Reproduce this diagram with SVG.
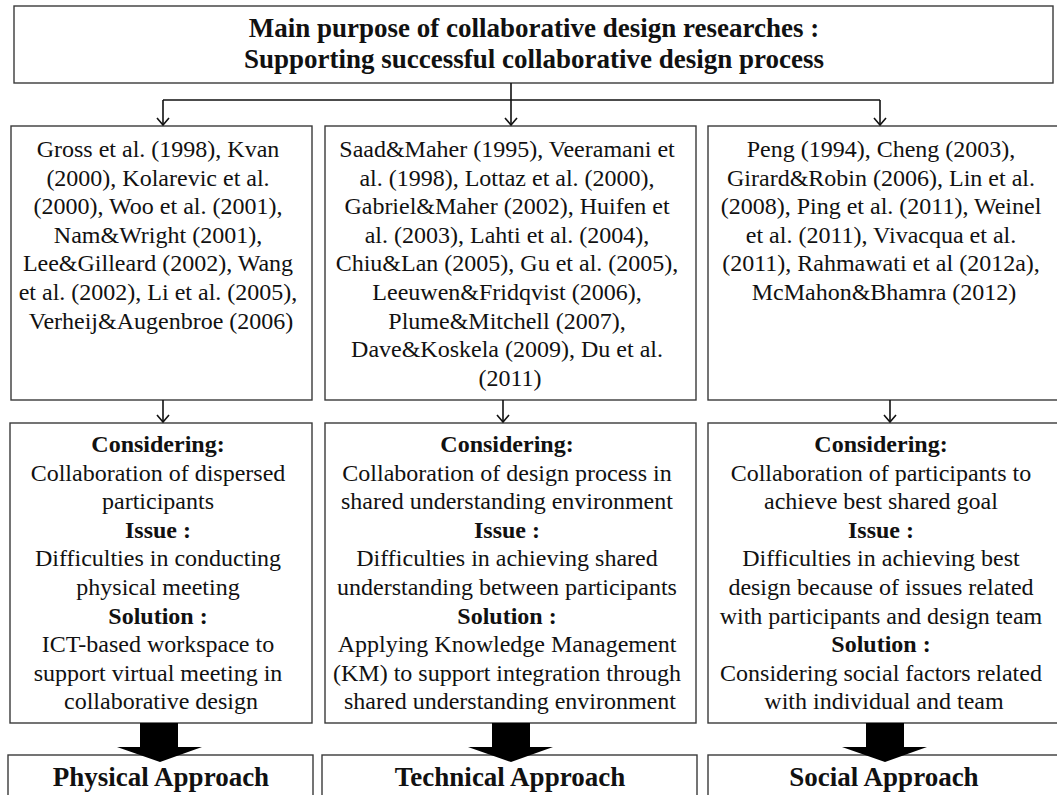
<svg xmlns="http://www.w3.org/2000/svg" width="1057" height="795" viewBox="0 0 1057 795">
  <style>
    .box { fill: #ffffff; stroke: #3a3a3a; stroke-width: 1.4; }
    .t { font-family: "Liberation Serif", "Times New Roman", serif; fill: #111111; text-anchor: middle; }
    .title { font-size: 27px; font-weight: bold; }
    .ref { font-size: 24px; }
    .body { font-size: 24px; }
    .hd { font-weight: bold; }
    .appr { font-size: 27px; font-weight: bold; }
    .link { fill: none; stroke: #111111; stroke-width: 1.6; }
    .big { fill: #000000; }
  </style>
  <defs>
    <marker id="vhead" markerUnits="userSpaceOnUse" markerWidth="16" markerHeight="16" refX="8" refY="8" orient="auto" overflow="visible">
      <path d="M1,2 L8,8 L1,14" fill="none" stroke="#111111" stroke-width="1.6"/>
    </marker>
  </defs>

  <!-- Top goal box -->
  <g id="goal">
    <rect class="box" x="14" y="6" width="1039" height="77"/>
    <text class="t title" x="534" y="37">Main purpose of collaborative design researches :</text>
    <text class="t title" x="534" y="68">Supporting successful collaborative design process</text>
  </g>

  <!-- Literature boxes -->
  <g id="refs-physical">
    <rect class="box" x="11" y="126" width="301" height="274"/>
    <text class="t ref" x="161" y="157">
      <tspan x="161" dy="0">Gross et al. (1998), Kvan</tspan>
      <tspan x="161" dy="28.6">(2000), Kolarevic et al.</tspan>
      <tspan x="161" dy="28.6">(2000), Woo et al. (2001),</tspan>
      <tspan x="161" dy="28.6">Nam&amp;Wright  (2001),</tspan>
      <tspan x="161" dy="28.6">Lee&amp;Gilleard  (2002), Wang</tspan>
      <tspan x="161" dy="28.6">et al. (2002), Li et al. (2005),</tspan>
      <tspan x="161" dy="28.6">Verheij&amp;Augenbroe  (2006)</tspan>
    </text>
  </g>
  <g id="refs-technical">
    <rect class="box" x="325" y="126" width="371" height="274"/>
    <text class="t ref" x="510" y="157">
      <tspan x="510" dy="0">Saad&amp;Maher (1995), Veeramani et</tspan>
      <tspan x="510" dy="28.6">al. (1998), Lottaz et al. (2000),</tspan>
      <tspan x="510" dy="28.6">Gabriel&amp;Maher (2002), Huifen et</tspan>
      <tspan x="510" dy="28.6">al. (2003), Lahti et al. (2004),</tspan>
      <tspan x="510" dy="28.6">Chiu&amp;Lan (2005), Gu et al. (2005),</tspan>
      <tspan x="510" dy="28.6">Leeuwen&amp;Fridqvist (2006),</tspan>
      <tspan x="510" dy="28.6">Plume&amp;Mitchell (2007),</tspan>
      <tspan x="510" dy="28.6">Dave&amp;Koskela (2009), Du et al.</tspan>
      <tspan x="510" dy="28.6">(2011)</tspan>
    </text>
  </g>
  <g id="refs-social">
    <rect class="box" x="708" y="126" width="355" height="274"/>
    <text class="t ref" x="884" y="157">
      <tspan x="884" dy="0">Peng (1994), Cheng (2003),</tspan>
      <tspan x="884" dy="28.6">Girard&amp;Robin (2006), Lin et al.</tspan>
      <tspan x="884" dy="28.6">(2008), Ping et al. (2011), Weinel</tspan>
      <tspan x="884" dy="28.6">et al. (2011), Vivacqua et al.</tspan>
      <tspan x="884" dy="28.6">(2011), Rahmawati  et al (2012a),</tspan>
      <tspan x="884" dy="28.6">McMahon&amp;Bhamra  (2012)</tspan>
    </text>
  </g>

  <!-- Consideration / issue / solution boxes -->
  <g id="detail-physical">
    <rect class="box" x="10" y="423" width="302" height="300"/>
    <text class="t body" x="161" y="452">
      <tspan class="hd" x="161" dy="0">Considering:</tspan>
      <tspan x="161" dy="28.6">Collaboration of dispersed</tspan>
      <tspan x="161" dy="28.6">participants</tspan>
      <tspan class="hd" x="161" dy="28.6">Issue :</tspan>
      <tspan x="161" dy="28.6">Difficulties in conducting</tspan>
      <tspan x="161" dy="28.6">physical meeting</tspan>
      <tspan class="hd" x="161" dy="28.6">Solution :</tspan>
      <tspan x="161" dy="28.6">ICT-based  workspace to</tspan>
      <tspan x="161" dy="28.6">support virtual meeting in</tspan>
      <tspan x="161" dy="28.6">collaborative design</tspan>
    </text>
  </g>
  <g id="detail-technical">
    <rect class="box" x="325" y="423" width="371" height="300"/>
    <text class="t body" x="510" y="452">
      <tspan class="hd" x="510" dy="0">Considering:</tspan>
      <tspan x="510" dy="28.6">Collaboration of design process in</tspan>
      <tspan x="510" dy="28.6">shared understanding environment</tspan>
      <tspan class="hd" x="510" dy="28.6">Issue :</tspan>
      <tspan x="510" dy="28.6">Difficulties in achieving shared</tspan>
      <tspan x="510" dy="28.6">understanding between participants</tspan>
      <tspan class="hd" x="510" dy="28.6">Solution :</tspan>
      <tspan x="510" dy="28.6">Applying Knowledge Management</tspan>
      <tspan x="510" dy="28.6">(KM) to support integration through</tspan>
      <tspan x="510" dy="28.6">shared understanding environment</tspan>
    </text>
  </g>
  <g id="detail-social">
    <rect class="box" x="708" y="423" width="355" height="300"/>
    <text class="t body" x="884" y="452">
      <tspan class="hd" x="884" dy="0">Considering:</tspan>
      <tspan x="884" dy="28.6">Collaboration of participants to</tspan>
      <tspan x="884" dy="28.6">achieve best shared  goal</tspan>
      <tspan class="hd" x="884" dy="28.6">Issue :</tspan>
      <tspan x="884" dy="28.6">Difficulties in achieving best</tspan>
      <tspan x="884" dy="28.6">design because of issues related</tspan>
      <tspan x="884" dy="28.6">with participants and design team</tspan>
      <tspan class="hd" x="884" dy="28.6">Solution :</tspan>
      <tspan x="884" dy="28.6">Considering  social factors related</tspan>
      <tspan x="884" dy="28.6">with individual and team</tspan>
    </text>
  </g>

  <!-- Approach boxes -->
  <g id="approach-physical">
    <rect class="box" x="8" y="755" width="305" height="60"/>
    <text class="t appr" x="161" y="786">Physical Approach</text>
  </g>
  <g id="approach-technical">
    <rect class="box" x="322" y="755" width="375" height="60"/>
    <text class="t appr" x="510" y="786">Technical Approach</text>
  </g>
  <g id="approach-social">
    <rect class="box" x="708" y="755" width="355" height="60"/>
    <text class="t appr" x="884" y="786">Social Approach</text>
  </g>

  <!-- Connectors -->
  <g id="connectors">
    <path class="link" d="M163,100 H880"/>
    <path class="link" d="M163,100 V125" marker-end="url(#vhead)"/>
    <path class="link" d="M511,83 V125" marker-end="url(#vhead)"/>
    <path class="link" d="M880,100 V125" marker-end="url(#vhead)"/>
    <path class="link" d="M163,400 V422" marker-end="url(#vhead)"/>
    <path class="link" d="M503,400 V422" marker-end="url(#vhead)"/>
    <path class="link" d="M890,400 V422" marker-end="url(#vhead)"/>
    <path class="big" d="M140,723 H178 V747 H202 L160,762 L117,747 H140 Z"/>
    <path class="big" d="M492,723 H530 V747 H553 L511,762 L468,747 H492 Z"/>
    <path class="big" d="M866,723 H904 V747 H927 L885,762 L842,747 H866 Z"/>
  </g>
</svg>
